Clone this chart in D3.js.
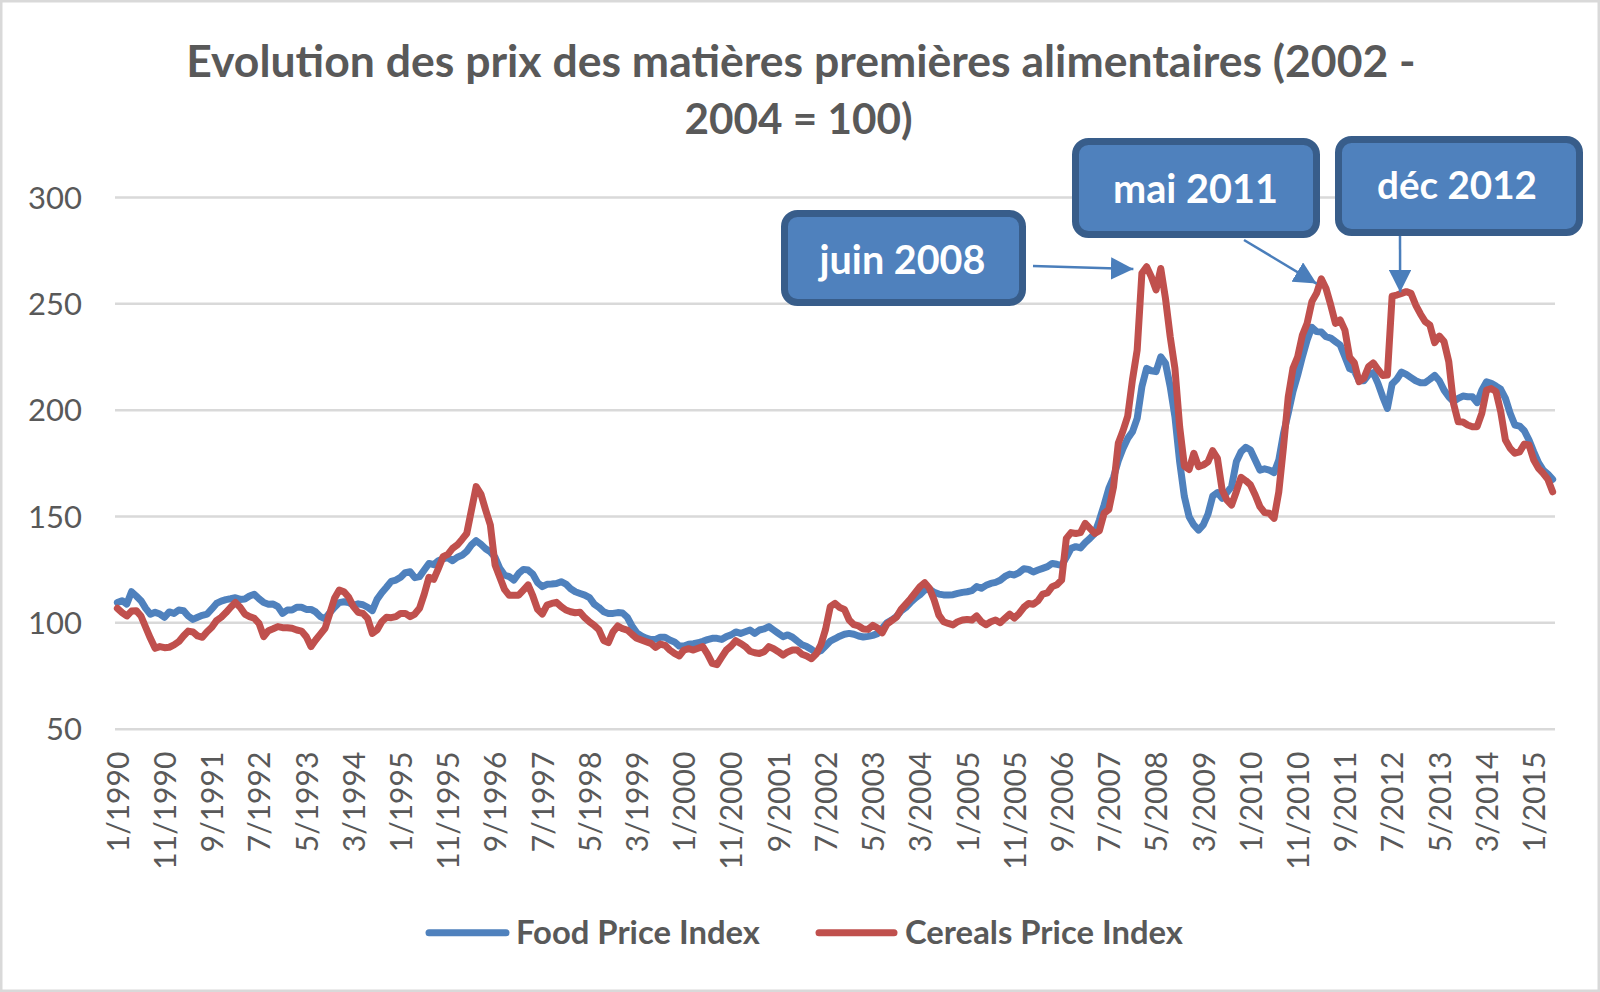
<!DOCTYPE html>
<html>
<head>
<meta charset="utf-8">
<script src="https://cdn.jsdelivr.net/npm/d3@7"></script>
<style>
  html, body { margin: 0; padding: 0; background: #ffffff; }
  svg { display: block; }
</style>
</head>
<body>
<script>
// ---------------- DATA ----------------
const titleLines = ["Evolution des prix des matières premières alimentaires (2002 -", "2004 = 100)"];
const startYear = 1990, startMonth = 1, monthCount = 305; // 1/1990 .. 5/2015
const tickLabels = ["1/1990","11/1990","9/1991","7/1992","5/1993","3/1994","1/1995","11/1995","9/1996","7/1997",
  "5/1998","3/1999","1/2000","11/2000","9/2001","7/2002","5/2003","3/2004","1/2005","11/2005","9/2006",
  "7/2007","5/2008","3/2009","1/2010","11/2010","9/2011","7/2012","5/2013","3/2014","1/2015"];
const yTicks = [50, 100, 150, 200, 250, 300];
const seriesNames = ["Food Price Index", "Cereals Price Index"];

const foodIndex = [
109.3,110.2,108.6,114.4,112.4,110.2,106.6,103.8,104.7,103.9,102.4,104.9,
104.2,105.8,105.5,103.0,101.4,102.4,103.3,103.9,106.3,108.9,110.0,110.7,
111.1,111.6,110.8,111.0,112.4,113.2,111.1,109.3,108.5,108.6,107.4,104.2,
105.8,105.8,107.1,107.1,106.1,106.1,104.9,102.7,101.7,104.6,107.1,109.3,
109.7,109.3,108.0,108.7,108.3,107.1,105.5,110.8,113.9,116.5,119.3,119.9,
121.2,123.4,123.8,121.0,121.5,124.6,127.7,127.1,129.0,129.9,130.4,129.0,
130.6,131.5,133.4,136.4,138.4,136.7,134.6,133.1,130.6,125.4,122.3,121.5,
119.9,123.0,124.9,124.6,122.7,118.7,116.8,117.9,118.0,118.3,119.1,118.0,
115.8,114.4,113.6,112.8,111.6,108.6,107.0,105.0,104.2,104.2,104.6,104.4,
102.4,98.3,95.1,93.6,92.6,91.9,92.0,93.0,93.0,91.7,90.8,88.9,
88.9,89.7,90.0,90.4,91.1,91.9,92.5,92.5,92.0,93.3,94.1,95.5,
94.8,95.6,96.4,94.8,96.4,96.9,98.0,96.4,94.8,93.3,94.1,93.0,
91.2,89.5,88.6,87.3,85.7,86.7,88.9,91.2,92.3,93.5,94.4,94.8,
94.4,93.6,93.1,93.4,93.9,94.7,97.2,99.8,101.1,102.7,105.3,107.0,
109.3,111.4,113.0,115.2,115.7,114.1,113.3,112.9,112.9,113.0,113.6,114.1,
114.4,114.9,116.8,116.0,117.4,118.3,118.8,119.8,121.6,122.7,122.3,123.4,
125.2,124.9,123.7,124.6,125.4,126.2,127.7,127.3,126.8,130.6,134.8,135.6,
135.0,137.5,139.5,141.8,148.1,155.2,163.0,168.2,176.0,181.8,186.5,189.6,
195.9,210.8,219.4,218.3,217.9,224.9,221.8,210.8,196.7,175.5,159.1,149.7,
145.8,143.4,145.8,150.9,159.4,161.0,158.3,161.0,163.8,175.5,180.2,182.3,
181.0,176.3,171.6,172.2,171.6,170.4,176.3,188.9,198.3,208.5,216.3,224.9,
232.7,238.7,236.7,236.5,234.3,233.7,232.0,230.4,224.9,219.3,218.3,213.6,
213.6,216.4,217.4,212.4,206.1,200.6,212.1,214.3,217.7,216.6,215.1,213.6,
212.7,212.7,214.3,216.1,213.6,209.2,206.1,203.8,205.3,206.4,206.1,206.1,
203.3,209.2,213.1,212.4,211.1,209.6,205.3,198.3,192.8,192.3,190.1,185.7,
180.2,175.1,171.6,169.7,167.2];

const cerealsIndex = [
106.6,104.6,103.0,105.3,105.5,103.0,97.7,92.5,87.8,88.6,88.1,88.3,
89.4,90.9,93.6,95.9,95.5,93.6,93.0,95.6,97.7,100.8,102.4,104.6,
107.1,109.3,107.1,103.9,102.7,101.9,99.5,93.3,96.1,97.0,98.0,97.5,
97.5,97.2,96.4,95.9,93.3,88.6,91.7,94.5,97.2,104.2,111.3,115.2,
114.4,111.8,107.4,104.7,104.2,101.9,94.8,96.4,100.3,102.4,102.2,102.7,
104.2,104.2,102.7,103.9,106.6,113.3,121.2,120.2,125.4,130.9,132.0,134.8,
136.4,139.0,141.8,152.8,163.8,160.3,152.8,145.8,127.0,121.2,115.5,112.7,
112.8,112.8,115.2,117.6,112.4,106.1,103.9,108.1,108.9,109.4,107.4,105.8,
105.0,104.5,104.8,102.2,100.2,98.6,96.5,91.5,90.5,95.6,98.3,97.0,
96.4,94.4,92.5,91.7,90.9,90.1,88.2,89.8,89.2,87.0,85.4,84.2,
87.0,87.6,87.0,87.8,88.6,85.1,80.7,80.1,83.6,87.0,88.9,91.4,
90.1,88.6,86.4,85.7,85.4,86.2,88.6,87.6,86.2,84.6,86.1,87.0,
87.0,85.0,84.2,82.9,85.1,89.4,96.7,107.4,108.9,107.0,106.1,101.1,
98.9,98.3,96.9,96.7,98.6,97.3,95.1,99.2,100.8,102.4,106.1,108.6,
111.1,113.9,116.8,118.6,116.0,110.5,103.4,100.3,99.5,98.8,100.3,101.1,
101.4,101.1,103.0,100.3,98.9,100.3,101.1,99.8,101.9,103.9,102.0,104.2,
107.1,108.9,108.5,110.2,113.3,113.9,116.8,117.7,119.9,139.5,142.2,141.8,
142.2,146.5,144.2,141.8,143.1,151.3,153.1,163.8,184.2,190.1,197.0,214.0,
228.0,264.1,267.2,262.5,256.3,266.4,252.3,234.3,219.4,192.0,173.5,171.9,
179.5,173.2,174.0,175.5,180.7,177.1,162.2,157.5,155.2,161.4,168.2,166.6,
164.6,159.9,154.4,151.6,151.3,148.9,161.4,182.6,206.1,219.4,224.9,235.1,
240.6,250.8,254.7,261.5,257.0,249.2,240.6,242.2,237.4,224.6,222.0,213.2,
214.7,220.2,222.0,218.9,216.1,216.3,253.4,253.9,254.7,255.5,254.7,249.2,
245.0,241.4,239.8,231.5,234.6,232.0,222.6,203.0,194.3,194.2,192.8,192.0,
192.0,198.3,209.2,209.9,208.5,199.1,185.7,181.8,179.5,180.2,183.8,183.4,
176.3,172.4,170.1,167.2,161.4];

// annotations: label, arrow tip (month label, value)
const annLabels = ["juin 2008", "mai 2011", "déc 2012"];
const annTipMonth = [215.2, 254.0, 271.7];   // month position (fractional index)
const annTipValue = [266.1, 259.3, 255.2];

// ---------------- LAYOUT ----------------
const W = 1600, H = 992;
const plot = { left: 115, right: 1555, top: 197, bottom: 728.7 };
const blue = "#4f81bd", red = "#c0504d", txt = "#595959", grid = "#d9d9d9";

const months = d3.range(monthCount).map(i => {
  const m = (startMonth - 1 + i) % 12 + 1;
  const y = startYear + Math.floor((startMonth - 1 + i) / 12);
  return m + "/" + y;
});

const svg = d3.select("body").append("svg").attr("width", W).attr("height", H);
svg.append("rect").attr("x", 1.25).attr("y", 1.25).attr("width", W - 2.5).attr("height", H - 2.5)
  .attr("fill", "#fff").attr("stroke", grid).attr("stroke-width", 2.5);

const x = d3.scalePoint().domain(months).range([plot.left, plot.right]).padding(0.5);
const step = x.step();
const xi = i => x(months[0]) + i * step;
const y = d3.scaleLinear().domain([50, 300]).range([plot.bottom, plot.top]);

function fitWidth(sel, target) {
  const w = sel.node().getComputedTextLength();
  const fs = parseFloat(sel.attr("font-size"));
  sel.attr("font-size", fs * target / w);
}

// Title
const t1 = svg.append("text").attr("x", 801).attr("y", 77).attr("text-anchor", "middle")
  .attr("font-family", "Lato").attr("font-weight", "bold").attr("font-size", 42).attr("fill", txt)
  .text(titleLines[0]);
fitWidth(t1, 1230);
const t2 = svg.append("text").attr("x", 798.5).attr("y", 134).attr("text-anchor", "middle")
  .attr("font-family", "Lato").attr("font-weight", "bold").attr("font-size", t1.attr("font-size")).attr("fill", txt)
  .text(titleLines[1]);
fitWidth(t2, 228);

// Y grid + labels
const yAxis = d3.axisLeft(y).tickValues(yTicks).tickSize(-(plot.right - plot.left)).tickPadding(33);
const gy = svg.append("g").attr("transform", `translate(${plot.left},0)`).call(yAxis);
gy.select(".domain").remove();
gy.selectAll(".tick line").attr("stroke", grid).attr("stroke-width", 2.5);
gy.selectAll(".tick text").attr("font-family", "Lato").attr("font-size", 31).attr("fill", txt)
  .attr("dy", "0.36em");

// X labels
const xAxis = d3.axisBottom(x).tickValues(tickLabels).tickSize(0).tickPadding(0);
const gx = svg.append("g").attr("transform", `translate(0,${plot.bottom})`).call(xAxis);
gx.select(".domain").remove();
gx.selectAll(".tick text")
  .attr("font-family", "Lato").attr("font-size", 30).attr("fill", txt)
  .attr("text-anchor", "end")
  .attr("transform", "translate(0,23) rotate(-90)")
  .attr("x", 0).attr("y", 0).attr("dy", "0.36em");

// Lines
const line = d3.line().x((d, i) => x(months[i])).y(d => y(d));
svg.append("path").datum(foodIndex).attr("d", line).attr("fill", "none")
  .attr("stroke", blue).attr("stroke-width", 7).attr("stroke-linejoin", "round").attr("stroke-linecap", "round");
svg.append("path").datum(cerealsIndex).attr("d", line).attr("fill", "none")
  .attr("stroke", red).attr("stroke-width", 7).attr("stroke-linejoin", "round").attr("stroke-linecap", "round");

// Annotation boxes
const boxes = [
  { x0: 781, y0: 210, x1: 1026, y1: 306, tx: 902.5, ty: 273.5, tw: 166, sx: 1033, sy: 266 },
  { x0: 1072, y0: 138, x1: 1320, y1: 238, tx: 1195.5, ty: 202.7, tw: 165, sx: 1244, sy: 240 },
  { x0: 1335, y0: 136, x1: 1583, y1: 236, tx: 1457, ty: 199.3, tw: 160, sx: 1400, sy: 236 }
];
const defs = svg.append("defs");
defs.append("marker").attr("id", "arr").attr("viewBox", "0 0 10 10").attr("refX", 10).attr("refY", 5)
  .attr("markerWidth", 9).attr("markerHeight", 9).attr("markerUnits", "strokeWidth").attr("orient", "auto")
  .append("path").attr("d", "M0,0 L10,5 L0,10 z").attr("fill", "#4a7ebb");

boxes.forEach((b, k) => {
  const tipX = xi(annTipMonth[k]), tipY = y(annTipValue[k]);
  svg.append("line").attr("x1", b.sx).attr("y1", b.sy).attr("x2", tipX).attr("y2", tipY)
    .attr("stroke", "#4a7ebb").attr("stroke-width", 2.5).attr("marker-end", "url(#arr)");
  svg.append("rect").attr("x", b.x0 + 3.5).attr("y", b.y0 + 3.5)
    .attr("width", b.x1 - b.x0 - 7).attr("height", b.y1 - b.y0 - 7)
    .attr("rx", 13).attr("fill", blue).attr("stroke", "#385d8a").attr("stroke-width", 7);
  const tt = svg.append("text").attr("x", b.tx).attr("y", b.ty).attr("text-anchor", "middle")
    .attr("font-family", "Lato").attr("font-weight", "bold").attr("font-size", 38).attr("fill", "#ffffff")
    .text(annLabels[k]);
  fitWidth(tt, b.tw);
});

// Legend
const legend = [
  { x0: 426, x1: 509, tx: 516, tw: 244, color: blue },
  { x0: 816, x1: 897, tx: 905, tw: 278, color: red }
];
legend.forEach((l, k) => {
  svg.append("line").attr("x1", l.x0 + 3).attr("x2", l.x1 - 3).attr("y1", 932.7).attr("y2", 932.7)
    .attr("stroke", l.color).attr("stroke-width", 7).attr("stroke-linecap", "round");
  const tt = svg.append("text").attr("x", l.tx).attr("y", 943.5)
    .attr("font-family", "Lato").attr("font-weight", "bold").attr("font-size", 32).attr("fill", txt)
    .text(seriesNames[k]);
  fitWidth(tt, l.tw);
});
</script>
</body>
</html>
